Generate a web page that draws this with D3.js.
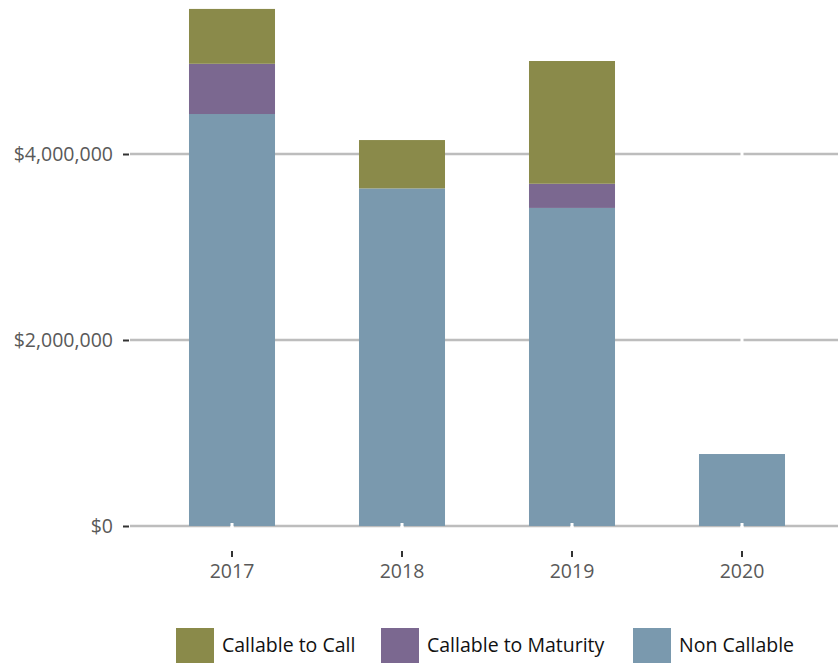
<!DOCTYPE html>
<html>
<head>
<meta charset="utf-8">
<script src="https://cdn.jsdelivr.net/npm/d3@7"></script>
<style>
	body { margin: 0; background: #fff; }
	svg { display: block; }
</style>
</head>
<body>
<svg id="chart" width="838" height="663"></svg>
<script>
const years = ["2017", "2018", "2019", "2020"];
const seriesNames = ["Non Callable", "Callable to Maturity", "Callable to Call"];
const nonCallable = [4430000, 3630000, 3420000, 774000];
const callableToMaturity = [540000, 0, 260000, 0];
const callableToCall = [590000, 520000, 1320000, 0];
const yTicks = [0, 2000000, 4000000];
const colors = ["#7a99ae", "#7b6890", "#8a8a4a"];

const svg = d3.select("#chart");
const plotLeft = 147, plotRight = 827;
const plotTop = 0, plotBottom = 526;

const rows = years.map((yr, i) => ({
	year: yr,
	"Non Callable": nonCallable[i],
	"Callable to Maturity": callableToMaturity[i],
	"Callable to Call": callableToCall[i],
}));

const x = d3.scaleBand().domain(years).range([plotLeft, plotRight]).paddingInner(0.494).paddingOuter(0.247);
const y = d3.scaleLinear().domain([0, 5655914]).range([plotBottom, plotTop]);

// gridlines, with small gaps at the category centres
const gridX0 = 130, gridX1 = 838;
yTicks.forEach((t) => {
	svg.append("line")
		.attr("x1", gridX0).attr("x2", gridX1)
		.attr("y1", y(t)).attr("y2", y(t))
		.attr("stroke", "#bdbdbd").attr("stroke-width", 2.5);
	years.forEach((yr) => {
		const cx = x(yr) + x.bandwidth() / 2;
		svg.append("rect")
			.attr("x", cx - 1.5).attr("y", y(t) - 3)
			.attr("width", 3).attr("height", 6)
			.attr("fill", "#fff");
	});
});

// stacked bars
const stack = d3.stack().keys(seriesNames)(rows);
svg.append("g").selectAll("g")
	.data(stack)
	.join("g")
	.attr("fill", (d, i) => colors[i])
	.selectAll("rect")
	.data((d) => d)
	.join("rect")
	.attr("x", (d) => x(d.data.year))
	.attr("width", x.bandwidth())
	.attr("y", (d) => y(d[1]))
	.attr("height", (d) => y(d[0]) - y(d[1]));

// small white marks on the zero line at the centres
years.forEach((yr) => {
	svg.append("rect")
		.attr("x", x(yr) + x.bandwidth() / 2 - 1.5).attr("y", y(0) - 3)
		.attr("width", 3).attr("height", 6)
		.attr("fill", "#fff");
});

// y axis
const yAxis = svg.append("g").attr("transform", `translate(129,0)`)
	.call(d3.axisLeft(y).tickValues(yTicks).tickSize(6).tickPadding(10)
		.tickFormat((d) => "$" + d3.format(",")(d)));
yAxis.select(".domain").remove();
yAxis.selectAll(".tick line").attr("stroke", "#333").attr("stroke-width", 2);
yAxis.selectAll("text").attr("font-family", "Open Sans")
	.attr("font-size", 19.5).attr("fill", "#595959");

// x axis
const xAxis = svg.append("g").attr("transform", `translate(0,551)`)
	.call(d3.axisBottom(x).tickSize(6).tickPadding(7));
xAxis.select(".domain").remove();
xAxis.selectAll(".tick line").attr("stroke", "#333").attr("stroke-width", 2);
xAxis.selectAll("text").attr("font-family", "Open Sans")
	.attr("font-size", 19.5).attr("fill", "#595959");

// legend
const legendItems = [
	{ name: "Callable to Call", color: colors[2], x: 176 },
	{ name: "Callable to Maturity", color: colors[1], x: 381 },
	{ name: "Non Callable", color: colors[0], x: 633 },
];
const legend = svg.append("g");
legendItems.forEach((d) => {
	legend.append("rect")
		.attr("x", d.x).attr("y", 628)
		.attr("width", 38).attr("height", 35)
		.attr("fill", d.color);
	legend.append("text")
		.attr("x", d.x + 46).attr("y", 652)
		.attr("font-family", "Open Sans").attr("font-size", 19.5)
		.attr("fill", "#111")
		.text(d.name);
});
</script>
</body>
</html>
